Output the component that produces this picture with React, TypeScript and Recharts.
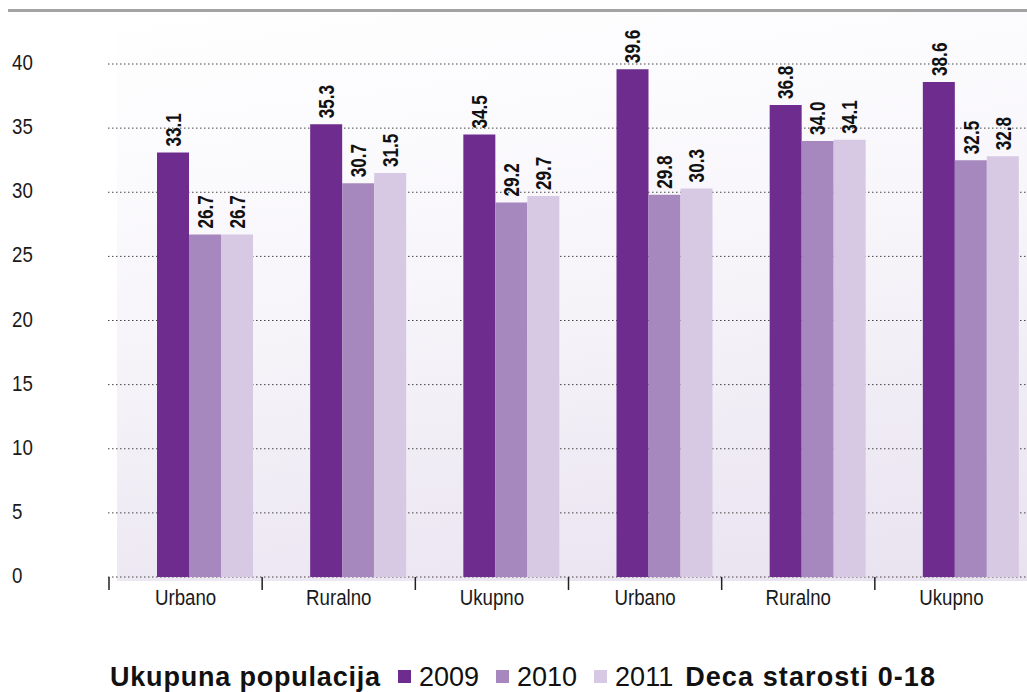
import React from "react";
import { BarChart, Bar, XAxis, YAxis, CartesianGrid, LabelList } from "recharts";

const categories = ["Urbano", "Ruralno", "Ukupno", "Urbano", "Ruralno", "Ukupno"];
const values2009 = [33.1, 35.3, 34.5, 39.6, 36.8, 38.6];
const values2010 = [26.7, 30.7, 29.2, 29.8, 34.0, 32.5];
const values2011 = [26.7, 31.5, 29.7, 30.3, 34.1, 32.8];
const yTicks = [0, 5, 10, 15, 20, 25, 30, 35, 40];
const seriesNames = ["2009", "2010", "2011"];
const seriesColors = ["#6e2c8e", "#a688be", "#d7c9e3"];
const legendLeftTitle = "Ukupuna populacija";
const legendRightTitle = "Deca starosti 0-18";

const data = categories.map((c, i) => ({
  idx: i,
  cat: c,
  s2009: values2009[i],
  s2010: values2010[i],
  s2011: values2011[i],
}));
const seriesKeys = ["s2009", "s2010", "s2011"];

const FONT = "'Liberation Sans', Arial, Helvetica, sans-serif";
const CONDENSE = 0.85;
const LABEL_SHIFT = -20;

const YTick = (props: any) => {
  const { y, payload } = props;
  return (
    <g transform={`translate(12 ${y}) scale(${CONDENSE} 1)`}>
      <text x={0} y={0} dy={6} textAnchor="start" fontFamily={FONT} fontSize={22} fill="#1a1a1a">
        {payload.value}
      </text>
    </g>
  );
};

const XTick = (props: any) => {
  const { x, y, payload } = props;
  const half = payload && payload.offset ? payload.offset : 76.6;
  const cx = x + LABEL_SHIFT;
  const bx = cx - half;
  return (
    <g>
      <line x1={bx} x2={bx} y1={577} y2={590} stroke="#222" strokeWidth={1.5} />
      <g transform={`translate(${cx} ${y}) scale(${CONDENSE} 1)`}>
        <text x={0} y={0} dy={20} textAnchor="middle" fontFamily={FONT} fontSize={22} fill="#1a1a1a">
          {categories[payload.value]}
        </text>
      </g>
    </g>
  );
};

const ValueLabel = (props: any) => {
  const { x, y, width, value } = props;
  const cx = Number(x) + Number(width) / 2;
  const ty = Number(y) - 6;
  return (
    <g transform={`translate(${cx} ${ty}) rotate(-90) scale(0.78 1)`}>
      <text
        x={0}
        y={0}
        textAnchor="start"
        dominantBaseline="central"
        fontFamily={FONT}
        fontWeight="bold"
        fontSize={22}
        fill="#111"
      >
        {Number(value).toFixed(1)}
      </text>
    </g>
  );
};

export default function App() {
  return (
    <div
      style={{
        position: "absolute",
        left: 0,
        top: 0,
        width: 1027,
        height: 692,
        overflow: "hidden",
        background: "#ffffff",
      }}
    >
      <div style={{ position: "absolute", left: 8, right: 0, top: 9, height: 3, background: "#a3a3a3" }} />
      <div
        style={{
          position: "absolute",
          left: 117,
          top: 12,
          width: 940,
          height: 569,
          background: "linear-gradient(172deg, #ffffff 0%, #f7f5fa 45%, #e8e2ef 100%)",
        }}
      />
      <div style={{ position: "absolute", left: 0, top: 0 }}>
        <BarChart
          width={1048}
          height={692}
          data={data}
          margin={{ top: 64, right: 0, left: 0, bottom: 85 }}
          barCategoryGap={28}
          barGap={0}
        >
          <CartesianGrid vertical={false} stroke="#444" strokeDasharray="1.5 2.5" />
          <XAxis
            dataKey="idx"
            type="category"
            height={30}
            padding={{ left: 21, right: 0 }}
            axisLine={false}
            tickLine={false}
            tick={<XTick />}
            interval={0}
          />
          <YAxis
            width={108}
            domain={[0, 40]}
            ticks={yTicks}
            axisLine={false}
            tickLine={false}
            tick={<YTick />}
            interval={0}
          />
          {seriesKeys.map((k, i) => (
            <Bar key={k} dataKey={k} name={seriesNames[i]} fill={seriesColors[i]} isAnimationActive={false}>
              <LabelList dataKey={k} content={<ValueLabel />} />
            </Bar>
          ))}
        </BarChart>
      </div>
      <div
        style={{
          position: "absolute",
          left: 110,
          top: 664,
          display: "flex",
          alignItems: "flex-start",
          fontFamily: FONT,
          fontSize: 27,
          lineHeight: 1,
          color: "#111",
          whiteSpace: "nowrap",
        }}
      >
        <span style={{ fontWeight: "bold", letterSpacing: 0.8, marginRight: 17 }}>{legendLeftTitle}</span>
        {seriesNames.map((n, i) => (
          <span key={n} style={{ display: "flex", alignItems: "flex-start", marginRight: i < 2 ? 17 : 12 }}>
            <span
              style={{
                display: "inline-block",
                width: 13,
                height: 13,
                marginTop: 6,
                marginRight: 8,
                background: seriesColors[i],
              }}
            />
            <span>{n}</span>
          </span>
        ))}
        <span style={{ fontWeight: "bold", letterSpacing: 1.1 }}>{legendRightTitle}</span>
      </div>
    </div>
  );
}
